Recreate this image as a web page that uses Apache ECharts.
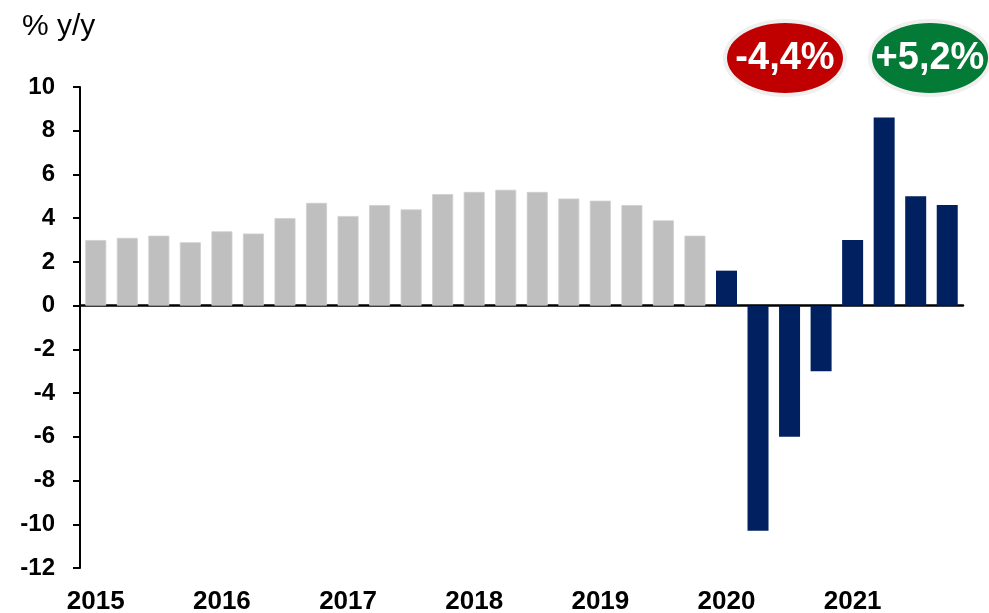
<!DOCTYPE html>
<html>
<head>
<meta charset="utf-8">
<script src="https://cdn.jsdelivr.net/npm/echarts@6/dist/echarts.min.js"></script>
<style>
  html, body { margin: 0; padding: 0; background: #fff; }
  #chart { width: 989px; height: 613px; }
</style>
</head>
<body>
<div id="chart"></div>
<script>
// Quarterly GDP growth, % y/y
const quarters = [
  '2015 Q1','2015 Q2','2015 Q3','2015 Q4',
  '2016 Q1','2016 Q2','2016 Q3','2016 Q4',
  '2017 Q1','2017 Q2','2017 Q3','2017 Q4',
  '2018 Q1','2018 Q2','2018 Q3','2018 Q4',
  '2019 Q1','2019 Q2','2019 Q3','2019 Q4',
  '2020 Q1','2020 Q2','2020 Q3','2020 Q4',
  '2021 Q1','2021 Q2','2021 Q3','2021 Q4'
];
// 2015–2019
const earlierGrowth = [
  3.0, 3.1, 3.2, 2.9,
  3.4, 3.3, 4.0, 4.7,
  4.1, 4.6, 4.4, 5.1,
  5.2, 5.3, 5.2, 4.9,
  4.8, 4.6, 3.9, 3.2
];
// 2020–2021
const recentGrowth = [
  1.6, -10.3, -6.0, -3.0,
  3.0, 8.6, 5.0, 4.6
];
const yTicks = { min: -12, max: 10, step: 2 };
const unitLabel = '% y/y';
const annualBadges = ['-4,4%', '+5,2%'];

const pad = (n) => new Array(n).fill(null);
const earlierSeries = earlierGrowth.concat(pad(quarters.length - earlierGrowth.length));
const recentSeries = pad(quarters.length - recentGrowth.length).concat(recentGrowth);

const FONT = '"Liberation Sans", Arial, sans-serif';
const chart = echarts.init(document.getElementById('chart'), null, { renderer: 'canvas' });

function badge(cx, cy, fill, text) {
  return {
    type: 'group',
    children: [
      { type: 'ellipse', shape: { cx: cx, cy: cy, rx: 62, ry: 39 },
        style: { fill: '#efefef' } },
      { type: 'ellipse', shape: { cx: cx, cy: cy, rx: 58, ry: 35 },
        style: { fill: fill } },
      { type: 'text', x: cx, y: cy + 1,
        style: { text: text, fill: '#fff', font: 'bold 38px ' + FONT,
                 align: 'center', verticalAlign: 'middle' } }
    ]
  };
}

chart.setOption({
  animation: false,
  grid: { left: 80, right: 26, top: 87, bottom: 45, containLabel: false, outerBoundsMode: 'none' },
  xAxis: [
    {
      type: 'category', data: quarters,
      axisLine: { onZero: true, lineStyle: { color: '#000', width: 2.5 } },
      axisTick: { show: false },
      axisLabel: { show: false }
    },
    {
      type: 'category', data: quarters, position: 'bottom',
      axisLine: { show: false, onZero: false },
      axisTick: { show: false },
      axisLabel: {
        interval: 3, margin: 21,
        fontFamily: FONT, fontSize: 26, fontWeight: 'bold', color: '#000',
        formatter: (v) => v.slice(0, 4)
      }
    }
  ],
  yAxis: {
    type: 'value', min: yTicks.min, max: yTicks.max, interval: yTicks.step,
    splitLine: { show: false },
    axisLine: { show: true, lineStyle: { color: '#000', width: 2 } },
    axisTick: { show: true, inside: false, length: 7, lineStyle: { color: '#000', width: 2 } },
    axisLabel: { margin: 25, fontFamily: FONT, fontSize: 24, fontWeight: 'bold', color: '#000' }
  },
  series: [
    {
      type: 'bar', data: earlierSeries, barWidth: 21, barGap: '-100%',
      itemStyle: { color: '#bfbfbf', borderColor: '#cfcfcf', borderWidth: 0.8 },
      z: 1
    },
    {
      type: 'bar', data: recentSeries, barWidth: 21, barGap: '-100%',
      itemStyle: { color: '#002060' },
      z: 1
    }
  ],
  graphic: [
    { type: 'text', left: 22, top: 12,
      style: { text: unitLabel, fill: '#000', font: '30px ' + FONT } },
    badge(785, 58, '#c00000', annualBadges[0]),
    badge(930, 58, '#037a36', annualBadges[1])
  ]
});
</script>
</body>
</html>
